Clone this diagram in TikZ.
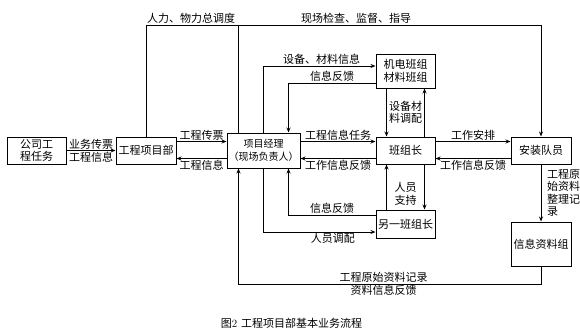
\documentclass[tikz,border=0pt]{standalone}
\usepackage{fontspec}
\newfontfamily\cjk{Noto Sans CJK SC}
\usetikzlibrary{arrows.meta, positioning, calc}

\begin{document}
\begin{tikzpicture}[
      x=1pt, y=1pt,
      node distance=49pt,
      box/.style={rectangle, draw=black, line width=1pt,
                  minimum width=59pt, minimum height=27pt, inner sep=1pt,
                  font=\cjk\fontsize{11}{12.5}\selectfont, align=center},
      lbl/.style={font=\cjk\fontsize{11}{12.5}\selectfont, inner sep=1pt, align=center},
      arr/.style={-{Stealth[length=5pt,width=4pt]}, line width=0.8pt},
      ln/.style={line width=0.8pt}
    ]
    \useasboundingbox (0,0) rectangle (580,-333);
    \node[box] (task) at (36.5,-150.5) {公司工\\程任务};
    \node[box, minimum width=60pt, right=49pt of task] (dept) {工程项目部};
    \node[box, minimum width=73pt, minimum height=35pt, right=50pt of dept,
          font=\cjk\fontsize{10}{12.5}\selectfont] (mgr) {项目经理\\（现场负责人）};
    \node[box, right=75pt of mgr] (lead) {班组长};
    \node[box, minimum width=60pt, right=75pt of lead] (crew) {安装队员};
    \node[box, minimum height=34pt, above=48pt of lead] (equip) {机电班组\\材料班组};
    \node[box, minimum height=28pt, below=45pt of lead] (other) {另一班组长};
    \node[box, minimum width=60pt, minimum height=44pt, below=57pt of crew] (info) {信息资料组};
    \coordinate (ytop) at (0,-25);
    \coordinate (ybot) at (0,-284);

    \draw[arr] (dept.north) -- (dept.north |- ytop) -- (crew.north |- ytop) -- (crew.north);
    \node[lbl, above right] (l1) at (dept.north |- ytop) {人力、物力总调度};
    \node[lbl, above] (l2) at (356,-25) {现场检查、监督、指导};
    \draw[ln] ([xshift=-25pt]mgr.north |- ytop) -- ([xshift=-25pt]mgr.north);

    \draw[arr] (mgr.north) |- node[lbl, pos=0.76, above] {设备、材料信息} ([yshift=5pt]equip.west);
    \draw[arr] ([yshift=-12pt]equip.west) -| node[lbl, pos=0.25, above] {信息反馈} ([xshift=25pt]mgr.north);

    \draw[arr] (task) -- (dept) node[lbl, midway, above] {业务传票} node[lbl, midway, below] {工程信息};
    \draw[arr] ([yshift=9pt]dept.east) -- ([yshift=9pt]mgr.west) node[lbl, midway, above] {工程传票};
    \draw[arr] ([yshift=-8pt]mgr.west) -- ([yshift=-8pt]dept.east) node[lbl, midway, below] {工程信息};
    \draw[arr] ([yshift=9pt]mgr.east) -- ([yshift=9pt]lead.west) node[lbl, midway, above] {工程信息任务};
    \draw[arr] ([yshift=-8pt]lead.west) -- ([yshift=-8pt]mgr.east) node[lbl, midway, below] {工作信息反馈};
    \draw[arr] ([yshift=9pt]lead.east) -- ([yshift=9pt]crew.west) node[lbl, midway, above] {工作安排};
    \draw[arr] ([yshift=-8pt]crew.west) -- ([yshift=-8pt]lead.east) node[lbl, midway, below] {工作信息反馈};

    \draw[arr] ([xshift=-19pt]equip.south) -- ([xshift=-19pt]lead.north);
    \draw[arr] ([xshift=19pt]lead.north) -- ([xshift=19pt]equip.south);
    \node[lbl] (l3) at ($(equip.south)!0.5!(lead.north)$) {设备材\\料调配};
    \draw[arr] ([xshift=-19pt]other.north) -- ([xshift=-19pt]lead.south);
    \draw[arr] ([xshift=19pt]lead.south) -- ([xshift=19pt]other.north);
    \node[lbl, yshift=-7pt] (l4) at ($(lead.south)!0.5!(other.north)$) {人员\\支持};

    \draw[arr] ([yshift=9pt]other.west) -| node[lbl, pos=0.25, above] {信息反馈} ([xshift=25pt]mgr.south);
    \draw[arr] (mgr.south) |- node[lbl, pos=0.81, below] {人员调配} ([yshift=-8pt]other.west);

    \draw[arr] (crew) -- (info);
    \node[lbl, align=left, anchor=west] (l5) at ([xshift=5pt]$(crew.south)!0.5!(info.north)$) {工程原\\始资料\\整理记\\录};

    \draw[arr] (info.south) -- (info.south |- ybot)
      -- node[lbl, pos=0.52, above] {工程原始资料记录} node[lbl, pos=0.52, below] {资料信息反馈}
      ([xshift=-25pt]mgr.south |- ybot) -- ([xshift=-25pt]mgr.south);

    \node[lbl] (cap) at (291.5,-323) {图{\rmfamily 2}\hspace{4pt}工程项目部基本业务流程};
  \end{tikzpicture}
\end{document}
